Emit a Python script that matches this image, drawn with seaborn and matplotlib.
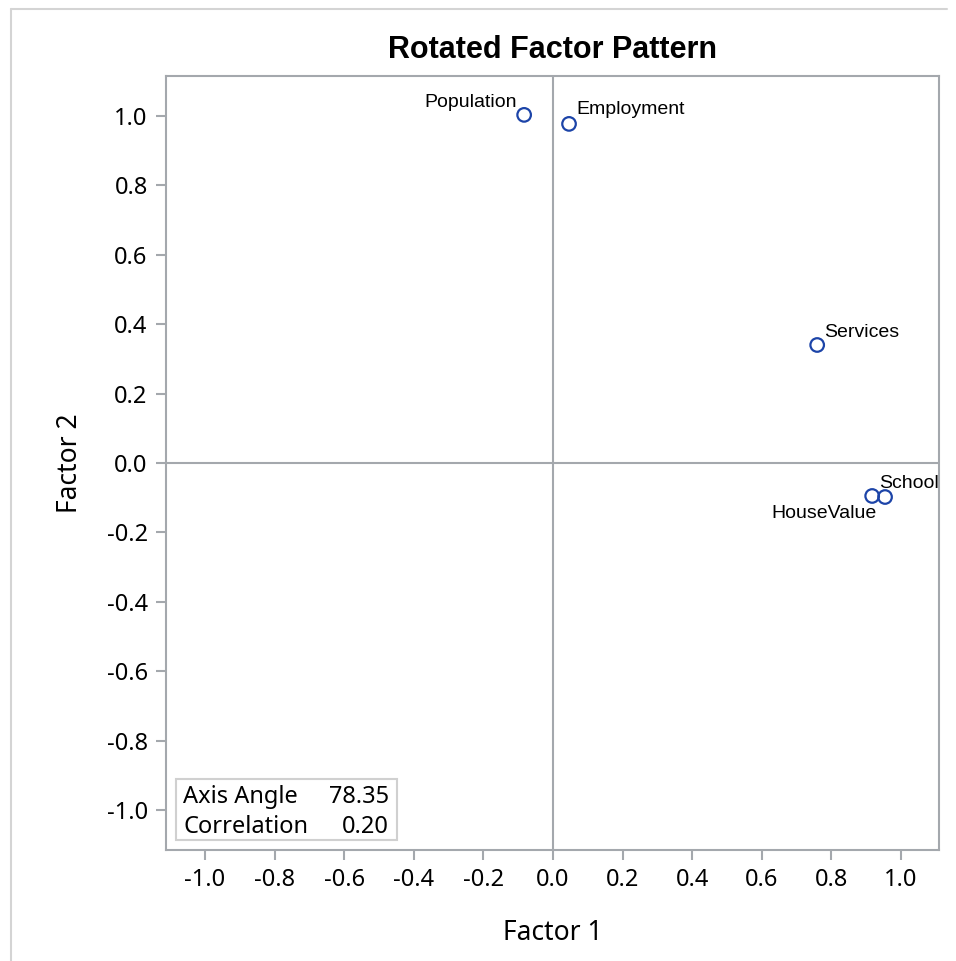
import matplotlib
matplotlib.use("Agg")
import matplotlib.pyplot as plt
import seaborn as sns
import pandas as pd
from matplotlib.patches import Rectangle
from matplotlib.lines import Line2D

variables = ["Population", "Employment", "Services", "HouseValue", "School"]
factor1 = [-0.083, 0.046, 0.759, 0.917, 0.954]
factor2 = [1.003, 0.977, 0.340, -0.095, -0.098]
ticks = [-1.0, -0.8, -0.6, -0.4, -0.2, 0.0, 0.2, 0.4, 0.6, 0.8, 1.0]
inset_labels = ["Axis Angle", "Correlation"]
inset_values = ["78.35", "0.20"]

df = pd.DataFrame({"Variable": variables, "Factor 1": factor1, "Factor 2": factor2})

sns.set_theme(style="white")
plt.rcParams["font.family"] = ["Noto Sans", "DejaVu Sans"]
plt.rcParams["text.color"] = "black"
plt.rcParams["axes.labelcolor"] = "black"
plt.rcParams["xtick.color"] = "black"
plt.rcParams["ytick.color"] = "black"

fig = plt.figure(figsize=(9.56, 9.61), dpi=100)
ax = fig.add_axes([166/956, 1-850/961, (939-166)/956, (850-76)/961])

gray = "#a4a8ad"
ax.axvline(0, color=gray, lw=1.5, zorder=1)
ax.axhline(0, color=gray, lw=1.5, zorder=1)

sns.scatterplot(data=df, x="Factor 1", y="Factor 2", ax=ax, marker="o", s=95,
                facecolor="none", edgecolor="#1c44a8", linewidth=1.6, zorder=3)

offsets = {
    "Population": ((-7, 8), "right", "baseline"),
    "Employment": ((7, 10), "left", "baseline"),
    "Services": ((7, 8), "left", "baseline"),
    "HouseValue": ((4, -9), "right", "top"),
    "School": ((-6, 9), "left", "baseline"),
}
for v, x, y in zip(variables, factor1, factor2):
    off, ha, va = offsets[v]
    ax.annotate(v, (x, y), xytext=off, textcoords="offset pixels", ha=ha, va=va,
                fontsize=14, family=["Liberation Sans", "DejaVu Sans"], color="black")

ax.set_xlim(-1.112, 1.109)
ax.set_ylim(-1.115, 1.115)
ax.set_xticks(ticks)
ax.set_yticks(ticks)
ax.set_xticklabels([f"{t:.1f}" for t in ticks])
ax.set_yticklabels([f"{t:.1f}" for t in ticks])
ax.tick_params(axis="both", which="major", direction="out", length=7.2, width=1.5,
               color=gray, labelsize=17, pad=6, labelcolor="black",
               bottom=True, left=True)
for s in ax.spines.values():
    s.set_color(gray)
    s.set_linewidth(1.5)

ax.set_xlabel("Factor 1", fontsize=19, labelpad=19, color="black")
ax.set_ylabel("Factor 2", fontsize=19, labelpad=16, color="black")
ax.set_title("Rotated Factor Pattern", fontsize=22, fontweight="bold",
             family=["Liberation Sans", "DejaVu Sans"], pad=13, color="black")

# inset box
ax.add_patch(Rectangle((0.0129, 0.0129), 0.2859, 0.0788, transform=ax.transAxes,
                       facecolor="white", edgecolor="#d0d0d0", lw=1.5, zorder=4))
for lab, val, yb in zip(inset_labels, inset_values, [0.0607, 0.022]):
    ax.text(0.022, yb, lab, transform=ax.transAxes, ha="left", va="baseline",
            fontsize=17, zorder=5, color="black")
    ax.text(0.2885, yb, val, transform=ax.transAxes, ha="right", va="baseline",
            fontsize=17, zorder=5, color="black")

# outer frame (left and top)
fig.add_artist(Line2D([11/956, 11/956], [0, 1-9/961], transform=fig.transFigure,
                      color="#d4d4d4", lw=1.5))
fig.add_artist(Line2D([11/956, 947/956], [1-9/961, 1-9/961], transform=fig.transFigure,
                      color="#d4d4d4", lw=1.5))

fig.savefig("out.png", dpi=100)
